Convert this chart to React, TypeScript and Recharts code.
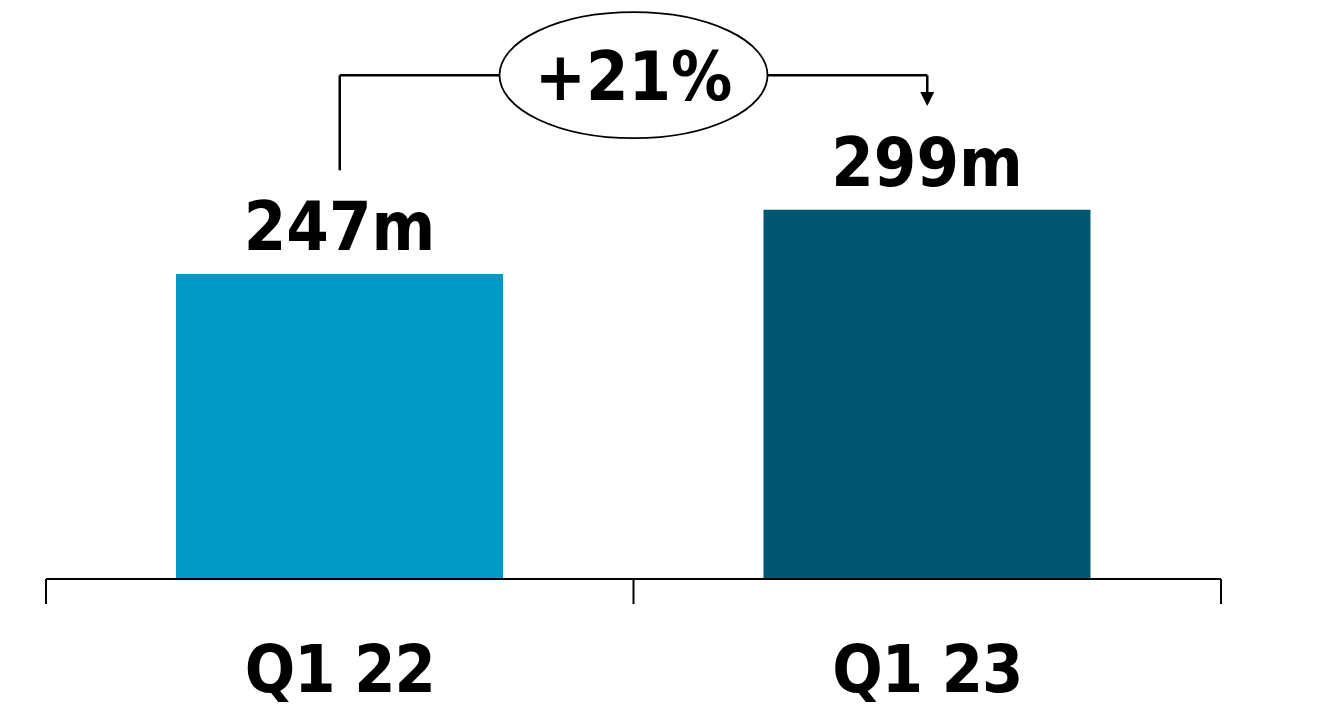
import { BarChart, Bar, XAxis, YAxis, Cell, LabelList, ReferenceLine, ReferenceDot } from 'recharts';

const categories = ['Q1 22', 'Q1 23'];
const revenue = [247, 299];
const barColors = ['#009AC4', '#00566F'];
const valueLabels = ['247m', '299m'];
const growthLabel = '+21%';

// annotation levels, in value units
const bracketTop = 408;
const bracketLeftBottom = 331;
const arrowTip = 383;

const data = categories.map((q, i) => ({ q, revenue: revenue[i], label: valueLabels[i] }));

const FONT = "'DejaVu Sans Condensed', 'DejaVu Sans', sans-serif";

// label under each category, plus tick marks on the category boundaries
const CategoryTick = (props: any) => {
  const { x, y, payload, index, visibleTicksCount } = props;
  const half = payload.offset || 293.75;
  const isLast = index === visibleTicksCount - 1;
  return (
    <g>
      <line x1={x - half} y1={y} x2={x - half} y2={y + 25} stroke="#000" strokeWidth={2} />
      {isLast && <line x1={x + half} y1={y} x2={x + half} y2={y + 25} stroke="#000" strokeWidth={2} />}
      <text x={x} y={y + 113} textAnchor="middle" fontFamily={FONT} fontWeight="bold" fontSize={66} letterSpacing={-1} fill="#000">
        {payload.value}
      </text>
    </g>
  );
};

// horizontal bracket with the growth badge sitting in its middle
const BracketWithBadge = (props: any) => {
  const { x1, y1, x2, y2 } = props;
  const cx = (x1 + x2) / 2;
  const cy = (y1 + y2) / 2;
  return (
    <g>
      <line x1={x1} y1={y1} x2={x2} y2={y2} stroke="#000" strokeWidth={2.5} />
      <ellipse cx={cx} cy={cy} rx={134} ry={63} fill="#fff" stroke="#000" strokeWidth={1.8} />
      <text x={cx} y={cy + 25} textAnchor="middle" fontFamily={FONT} fontWeight="bold" fontSize={68} fill="#000">
        {growthLabel}
      </text>
    </g>
  );
};

const ArrowHead = (props: any) => {
  const { cx, cy } = props;
  return <path d={`M${cx - 7},${cy - 14} L${cx + 7},${cy - 14} L${cx},${cy} Z`} fill="#000" />;
};

export default function App() {
  return (
    <div style={{ position: 'absolute', left: 0, top: 0 }}>
      <BarChart
        width={1330}
        height={711}
        data={data}
        margin={{ top: 11, right: 109, left: 46, bottom: 0 }}
      >
        <XAxis
          dataKey="q"
          height={132}
          axisLine={{ stroke: '#000', strokeWidth: 2 }}
          tickLine={false}
          tickSize={0}
          tickMargin={0}
          tick={<CategoryTick />}
          interval={0}
        />
        <YAxis hide domain={[0, 460]} allowDataOverflow />
        <Bar dataKey="revenue" barSize={327} isAnimationActive={false}>
          {data.map((d, i) => (
            <Cell key={d.q} fill={barColors[i]} />
          ))}
          <LabelList
            dataKey="label"
            position="top"
            offset={24}
            fontFamily={FONT}
            fontWeight="bold"
            fontSize={68}
            fill="#000"
          />
        </Bar>
        <ReferenceLine
          segment={[{ x: categories[0], y: bracketLeftBottom }, { x: categories[0], y: bracketTop }]}
          stroke="#000"
          strokeWidth={2.5}
        />
        <ReferenceLine
          segment={[{ x: categories[1], y: bracketTop }, { x: categories[1], y: arrowTip + 10 }]}
          stroke="#000"
          strokeWidth={2.5}
        />
        <ReferenceLine
          segment={[{ x: categories[0], y: bracketTop }, { x: categories[1], y: bracketTop }]}
          shape={<BracketWithBadge />}
        />
        <ReferenceDot x={categories[1]} y={arrowTip} r={1} shape={<ArrowHead />} />
      </BarChart>
    </div>
  );
}
